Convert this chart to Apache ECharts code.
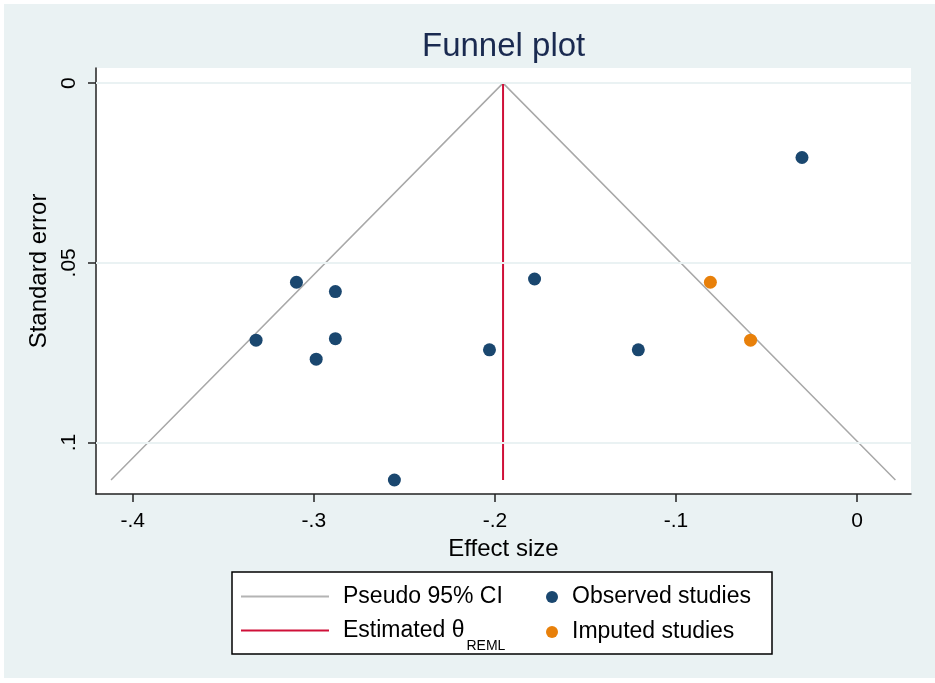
<!DOCTYPE html>
<html>
<head>
    <meta charset="utf-8">
    <title>Funnel plot</title>
    <script src="https://cdn.jsdelivr.net/npm/echarts@6.0.0/dist/echarts.min.js"></script>
    <style>
        html, body { margin: 0; padding: 0; background: #fff; }
    </style>
</head>
<body>
<div id="main" style="width: 935px;height:683px;"></div>
<script type="text/javascript">
    // values
    var observedES = [-0.3096, -0.2881, -0.3319, -0.2881, -0.2987, -0.1781, -0.2030, -0.1208, -0.0304, -0.2555];
    var observedSE = [0.0554, 0.0580, 0.0715, 0.0711, 0.0768, 0.0545, 0.0742, 0.0742, 0.0207, 0.1104];
    var imputedES = [-0.0810, -0.0588];
    var imputedSE = [0.0554, 0.0715];
    // pseudo 95% CI funnel: left foot, apex, right foot
    var ciES = [-0.412, -0.1955, 0.0212];
    var ciSE = [0.1104, 0, 0.1104];
    // estimated theta (REML) line
    var thetaES = [-0.1955, -0.1955];
    var thetaSE = [0, 0.1104];
    var xTicks = [-0.4, -0.3, -0.2, -0.1, 0];
    var yTicks = [0, 0.05, 0.1];

    function pairs(xs, ys) {
        return xs.map(function (x, i) { return [x, ys[i]]; });
    }
    function stataNum(v) {
        return String(v).replace('0.', '.');
    }

    var font = 'Liberation Sans, Arial, sans-serif';
    var myChart = echarts.init(document.getElementById('main'));

    myChart.setOption({
        backgroundColor: '#fff',
        animation: false,
        textStyle: { fontFamily: font },
        graphic: [
            { type: 'rect', z: -10, shape: { x: 4, y: 4, width: 931, height: 674 },
              style: { fill: '#eaf2f3' } },
            { type: 'rect', z: 3, shape: { x: 232, y: 572, width: 540, height: 82 },
              style: { fill: '#fff', stroke: '#000', lineWidth: 1.5 } }
        ],
        title: {
            text: 'Funnel plot',
            left: 417,
            top: 25,
            textStyle: { color: '#1a2a50', fontSize: 33, fontWeight: 'normal', fontFamily: font }
        },
        grid: {
            left: 96, right: 24, top: 68, bottom: 189,
            show: true, backgroundColor: '#fff', borderWidth: 0
        },
        legend: [
            {
                data: [
                    { name: 'Pseudo 95% CI', icon: 'rect' },
                    { name: 'Estimated θREML', icon: 'rect' }
                ],
                orient: 'vertical',
                left: 241, top: 585,
                padding: 0,
                itemWidth: 88, itemHeight: 2, itemGap: 11,
                selectedMode: false,
                formatter: function (name) {
                    return name === 'Estimated θREML' ? '{t|Estimated θ}{s|REML}' : '{t|' + name + '}';
                },
                textStyle: {
                    padding: [0, 0, 0, 9],
                    rich: {
                        t: { fontSize: 23, lineHeight: 24, color: '#000', fontFamily: font },
                        s: { fontSize: 14, lineHeight: 12, color: '#000', fontFamily: font,
                             verticalAlign: 'bottom', padding: [0, 0, -11, 2] }
                    }
                }
            },
            {
                data: ['Observed studies', 'Imputed studies'],
                orient: 'vertical',
                left: 546, top: 585,
                padding: 0,
                itemWidth: 12, itemHeight: 12, itemGap: 11,
                selectedMode: false,
                textStyle: {
                    padding: [0, 0, 0, 9],
                    fontSize: 23, lineHeight: 24, color: '#000', fontFamily: font
                }
            }
        ],
        xAxis: {
            type: 'value',
            min: -0.4203, max: 0.0298,
            name: 'Effect size',
            nameLocation: 'middle',
            nameGap: 35,
            nameTextStyle: { color: '#000', fontSize: 24, fontFamily: font },
            axisLine: { show: true, onZero: false, lineStyle: { color: '#222', width: 1.5 } },
            axisTick: { show: true, length: 8, customValues: xTicks, lineStyle: { color: '#222', width: 1.5 } },
            axisLabel: { customValues: xTicks, margin: 17, color: '#000', fontSize: 21, fontFamily: font,
                         formatter: stataNum },
            splitLine: { show: false }
        },
        yAxis: {
            type: 'value',
            inverse: true,
            min: -0.0042, max: 0.1143,
            name: 'Standard error',
            nameLocation: 'middle',
            nameGap: 44,
            nameTextStyle: { color: '#000', fontSize: 24, fontFamily: font, padding: [0, 0, 0, 20] },
            axisLine: { show: true, onZero: false, lineStyle: { color: '#222', width: 1.5 } },
            axisTick: { show: true, length: 8, customValues: yTicks, lineStyle: { color: '#222', width: 1.5 } },
            axisLabel: { customValues: yTicks, margin: 16, rotate: 90, color: '#000', fontSize: 21, fontFamily: font,
                         formatter: stataNum },
            splitLine: { show: false }
        },
        series: [
            {
                // y gridlines
                name: 'grid',
                type: 'line',
                data: [],
                silent: true,
                z: 1,
                markLine: {
                    silent: true,
                    symbol: 'none',
                    label: { show: false },
                    lineStyle: { color: '#eaf2f3', width: 2, type: 'solid' },
                    data: yTicks.map(function (v) { return { yAxis: v }; })
                }
            },
            {
                name: 'Pseudo 95% CI',
                type: 'line',
                z: 2,
                symbol: 'none',
                lineStyle: { color: '#a8a8a8', width: 1.5 },
                itemStyle: { color: '#b4b4b4' },
                data: pairs(ciES, ciSE)
            },
            {
                name: 'Estimated θREML',
                type: 'line',
                z: 3,
                symbol: 'none',
                lineStyle: { color: '#cf1039', width: 2 },
                itemStyle: { color: '#cf1039' },
                data: pairs(thetaES, thetaSE)
            },
            {
                name: 'Observed studies',
                type: 'scatter',
                z: 4,
                symbolSize: 13,
                itemStyle: { color: '#1a476f', opacity: 1 },
                data: pairs(observedES, observedSE)
            },
            {
                name: 'Imputed studies',
                type: 'scatter',
                z: 4,
                symbolSize: 13,
                itemStyle: { color: '#e8800a', opacity: 1 },
                data: pairs(imputedES, imputedSE)
            }
        ]
    });
</script>
</body>
</html>
